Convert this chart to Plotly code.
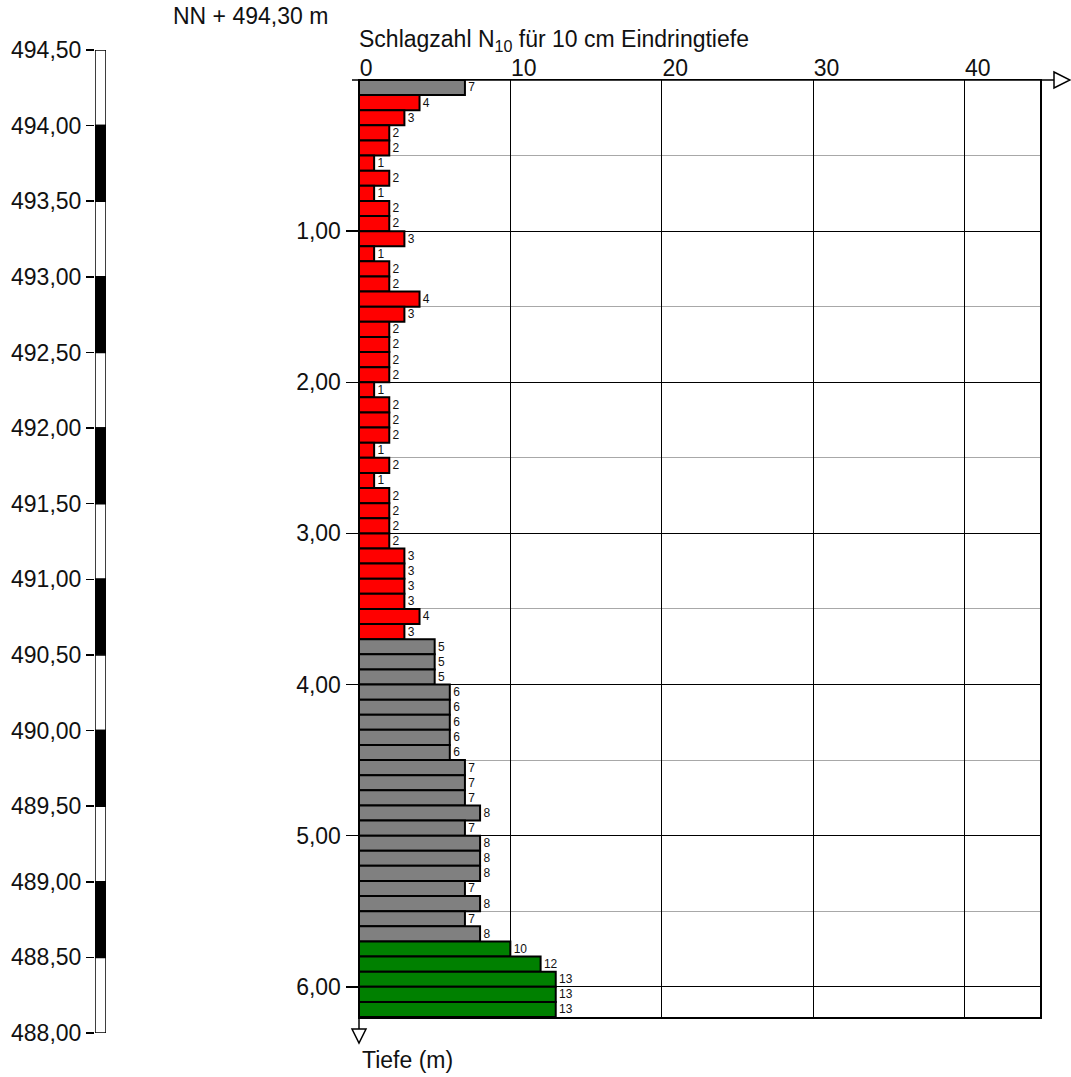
import plotly.graph_objects as go

# ---------------- data ----------------
schlagzahl = [7, 4, 3, 2, 2, 1, 2, 1, 2, 2,
              3, 1, 2, 2, 4, 3, 2, 2, 2, 2,
              1, 2, 2, 2, 1, 2, 1, 2, 2, 2,
              2, 3, 3, 3, 3, 4, 3,
              5, 5, 5,
              6, 6, 6, 6, 6,
              7, 7, 7, 8, 7,
              8, 8, 8, 7, 8, 7, 8,
              10, 12, 13, 13, 13]
schicht = ['grau'] + ['rot'] * 36 + ['grau'] * 20 + ['gruen'] * 5
intervall = 0.1  # m per blow count
tiefe_mitte = [round(i * intervall + intervall / 2, 2) for i in range(len(schlagzahl))]

depth_ticks = [1, 2, 3, 4, 5, 6]
depth_ticktext = ['1,00', '2,00', '3,00', '4,00', '5,00', '6,00']
depth_minor = [0.5, 1.5, 2.5, 3.5, 4.5, 5.5]
x_ticks = [0, 10, 20, 30, 40]

nn_ticks = [488.0, 488.5, 489.0, 489.5, 490.0, 490.5, 491.0, 491.5,
            492.0, 492.5, 493.0, 493.5, 494.0, 494.5]
nn_ticktext = ['488,00', '488,50', '489,00', '489,50', '490,00', '490,50', '491,00',
               '491,50', '492,00', '492,50', '493,00', '493,50', '494,00', '494,50']
nn_block_base = [494.0, 493.5, 493.0, 492.5, 492.0, 491.5, 491.0, 490.5,
                 490.0, 489.5, 489.0, 488.5, 488.0]
nn_block_col = ['white', 'black'] * 6 + ['white']

farben = {'grau': '#808080', 'rot': '#ff0000', 'gruen': '#008000'}

W, H = 1071, 1077
OFF = 0  # page offset of the figure (body margin removed below)
FONT = 'Liberation Sans, Arial, sans-serif'


def px(x):
    return (x - OFF) / W


def py(y):
    return 1 - (y - OFF) / H


fig = go.Figure()

# elevation column
fig.add_trace(go.Bar(
    x=[0] * len(nn_block_base), y=[0.5] * len(nn_block_base), base=nn_block_base,
    width=1, marker=dict(color=nn_block_col, line=dict(color='black', width=1.5)),
    xaxis='x2', yaxis='y2', showlegend=False, hoverinfo='skip'))

# blow count bars
fig.add_trace(go.Bar(
    x=schlagzahl, y=tiefe_mitte, orientation='h', width=intervall,
    marker=dict(color=[farben[s] for s in schicht], line=dict(color='black', width=2)),
    showlegend=False, xaxis='x', yaxis='y'))

# value labels
fig.add_trace(go.Scatter(
    x=schlagzahl, y=[t + 0.006 for t in tiefe_mitte], mode='text',
    text=[' ' + str(v) for v in schlagzahl], textposition='middle right',
    textfont=dict(size=12, color='#111111', family=FONT),
    cliponaxis=False, showlegend=False, hoverinfo='skip', xaxis='x', yaxis='y'))

fig.update_layout(
    width=W, height=H, autosize=False,
    margin=dict(l=0, r=0, t=0, b=0, pad=0, autoexpand=False),
    paper_bgcolor='white', plot_bgcolor='white',
    font=dict(family=FONT, size=23, color='#111111'),
    barmode='overlay',
    xaxis=dict(domain=[px(359), px(1040)], range=[0, 45], side='top', anchor='y',
               tickvals=x_ticks, ticklabelposition='outside right', ticks='',
               ticklabelstandoff=-7,
               showgrid=True, gridcolor='black', gridwidth=1, zeroline=False,
               showline=True, linecolor='black', linewidth=1.5, mirror=True,
               tickfont=dict(size=23), fixedrange=True, automargin=False),
    yaxis=dict(domain=[py(1017), py(80)], range=[6.2, 0], anchor='x',
               tickvals=depth_ticks, ticktext=depth_ticktext, ticks='outside',
               ticklen=12, tickcolor='black', tickwidth=1.5,
               showgrid=True, gridcolor='black', gridwidth=1, zeroline=False,
               showline=True, linecolor='black', linewidth=1.5, mirror=True,
               minor=dict(tickvals=depth_minor, showgrid=True, gridcolor='#a8a8a8',
                          gridwidth=1, ticks=''),
               tickfont=dict(size=23), fixedrange=True, automargin=False),
    xaxis2=dict(domain=[px(95), px(106)], range=[-0.5, 0.5], anchor='y2', visible=False),
    yaxis2=dict(domain=[py(1033), py(50)], range=[488.0, 494.5], anchor='x2',
                tickvals=nn_ticks, ticktext=nn_ticktext, ticks='outside', ticklen=8,
                tickcolor='black', tickwidth=1.5, showgrid=False, zeroline=False,
                showline=False, tickfont=dict(size=23), fixedrange=True, automargin=False),
)

# decorative axis extension and arrows
line = dict(color='black', width=1.5)
fig.add_shape(type='line', xref='paper', yref='paper', x0=px(352), x1=px(1054),
              y0=py(80), y1=py(80), line=line)
fig.add_shape(type='path', xref='paper', yref='paper',
              path=f'M {px(1054)},{py(72)} L {px(1070)},{py(80)} L {px(1054)},{py(88)} Z',
              fillcolor='white', line=line)
fig.add_shape(type='line', xref='paper', yref='paper', x0=px(359), x1=px(359),
              y0=py(1017), y1=py(1029), line=line)
fig.add_shape(type='path', xref='paper', yref='paper',
              path=f'M {px(352)},{py(1029)} L {px(366)},{py(1029)} L {px(359)},{py(1043)} Z',
              fillcolor='white', line=line)

fig.add_annotation(text='NN + 494,30 m', xref='paper', yref='paper', x=px(171), y=py(16),
                   xanchor='left', yanchor='middle', showarrow=False, font=dict(size=23))
fig.add_annotation(text='Schlagzahl N<sub>10</sub> für 10 cm Eindringtiefe',
                   xref='paper', yref='paper', x=px(357), y=py(40),
                   xanchor='left', yanchor='middle', showarrow=False, font=dict(size=23))
fig.add_annotation(text='Tiefe (m)', xref='paper', yref='paper', x=px(360), y=py(1060),
                   xanchor='left', yanchor='middle', showarrow=False, font=dict(size=23))

fig.write_html('out.html',
               config={'displayModeBar': False, 'staticPlot': True},
               post_script="document.body.style.margin='0px';"
                           "document.body.style.overflow='hidden';")
